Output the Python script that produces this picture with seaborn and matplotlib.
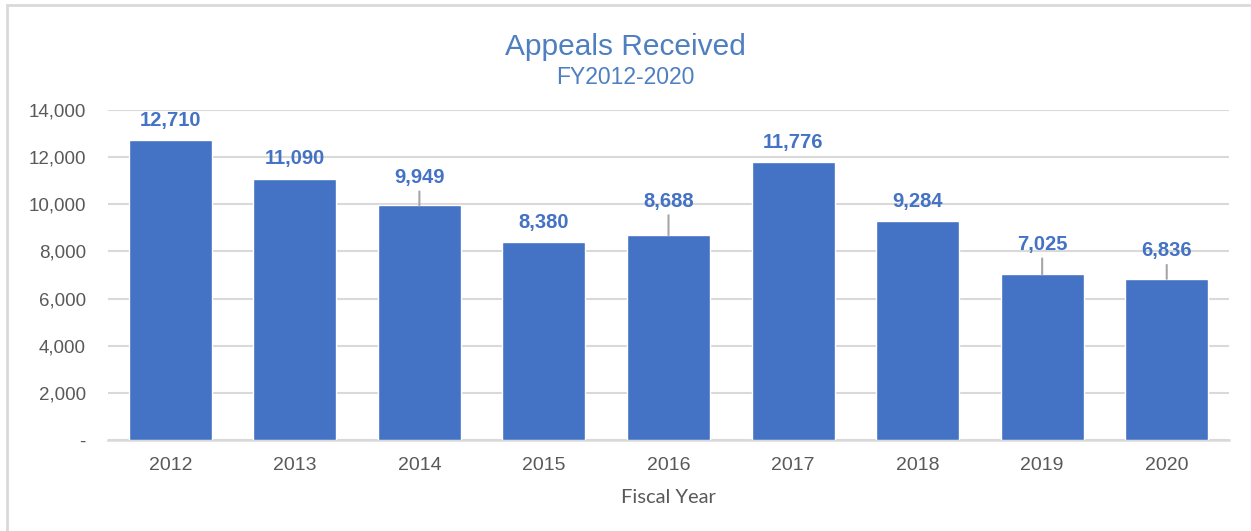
import matplotlib

matplotlib.use("Agg")
import matplotlib.pyplot as plt
import pandas as pd
import seaborn as sns
from matplotlib.patches import Rectangle
from matplotlib.ticker import FuncFormatter


YEARS = ["2012", "2013", "2014", "2015", "2016", "2017", "2018", "2019", "2020"]
APPEALS = [12710, 11090, 9949, 8380, 8688, 11776, 9284, 7025, 6836]

TITLE = "Appeals Received"
SUBTITLE = "FY2012-2020"
X_LABEL = "Fiscal Year"

BAR_COLOR = "#4472C4"
TITLE_COLOR = "#4E7FC1"
TEXT_GRAY = "#595959"
GRID_GRAY = "#D9D9D9"

# label offset above bar top in pixels; a few labels were dragged up with leader lines
DEFAULT_OFFSET = 20
LEADER_OFFSETS = {"2014": 28, "2016": 34, "2019": 30, "2020": 28}

W, H = 1251, 531


def main() -> None:
    df = pd.DataFrame({"year": YEARS, "appeals": APPEALS})

    sns.set_theme(style="white")
    plt.rcParams["font.family"] = ["Liberation Sans", "DejaVu Sans"]

    fig = plt.figure(figsize=(W / 100, H / 100), dpi=100)
    ax = fig.add_axes([108 / W, 1 - 440 / H, (1229 - 108) / W, (440 - 110) / H])

    sns.barplot(data=df, x="year", y="appeals", color=BAR_COLOR, width=0.667,
                saturation=1, ax=ax, zorder=3)

    ax.set_ylim(0, 14000)
    ax.set_yticks(range(0, 14001, 2000))
    ax.yaxis.set_major_formatter(FuncFormatter(lambda v, _: "-" if v == 0 else f"{int(v):,}"))
    ax.grid(axis="y", color=GRID_GRAY, linewidth=1.5, zorder=0)
    ax.grid(axis="x", visible=False)
    for side in ["top", "right", "left"]:
        ax.spines[side].set_visible(False)
    ax.spines["bottom"].set_color(GRID_GRAY)
    ax.spines["bottom"].set_linewidth(1.8)
    ax.tick_params(axis="y", length=0, pad=16, labelsize=13.5, labelcolor=TEXT_GRAY)
    ax.tick_params(axis="x", length=0, pad=12, labelsize=14, labelcolor=TEXT_GRAY)
    ax.set_ylabel("")
    ax.set_xlabel(X_LABEL, fontsize=14.5, color=TEXT_GRAY, labelpad=11,
                  family=["Lato", "DejaVu Sans"])

    for i, (year, value) in enumerate(zip(YEARS, APPEALS)):
        off = LEADER_OFFSETS.get(year, DEFAULT_OFFSET)
        ax.annotate(f"{value:,}", xy=(i, value), xytext=(0, off), textcoords="offset pixels",
                    ha="center", va="center", fontsize=14.5, fontweight="bold",
                    color=BAR_COLOR, zorder=5)
        if year in LEADER_OFFSETS:
            ax.annotate("", xy=(i, value), xytext=(0, off - 14), textcoords="offset pixels",
                        arrowprops=dict(arrowstyle="-", color="#A6A6A6", lw=1.5,
                                        shrinkA=0, shrinkB=0), zorder=4)

    fig.text(0.5, 1 - 47 / H, TITLE, ha="center", va="center", fontsize=21.5, color=TITLE_COLOR)
    fig.text(0.5, 1 - 78 / H, SUBTITLE, ha="center", va="center", fontsize=16.5, color=TITLE_COLOR)

    fig.patches.append(Rectangle((7 / W, -0.1), 1.2, 1.1 - 5 / H, transform=fig.transFigure,
                                 fill=False, edgecolor=GRID_GRAY, linewidth=2))

    fig.savefig("out.png", dpi=100)
    plt.close(fig)


if __name__ == "__main__":
    main()
